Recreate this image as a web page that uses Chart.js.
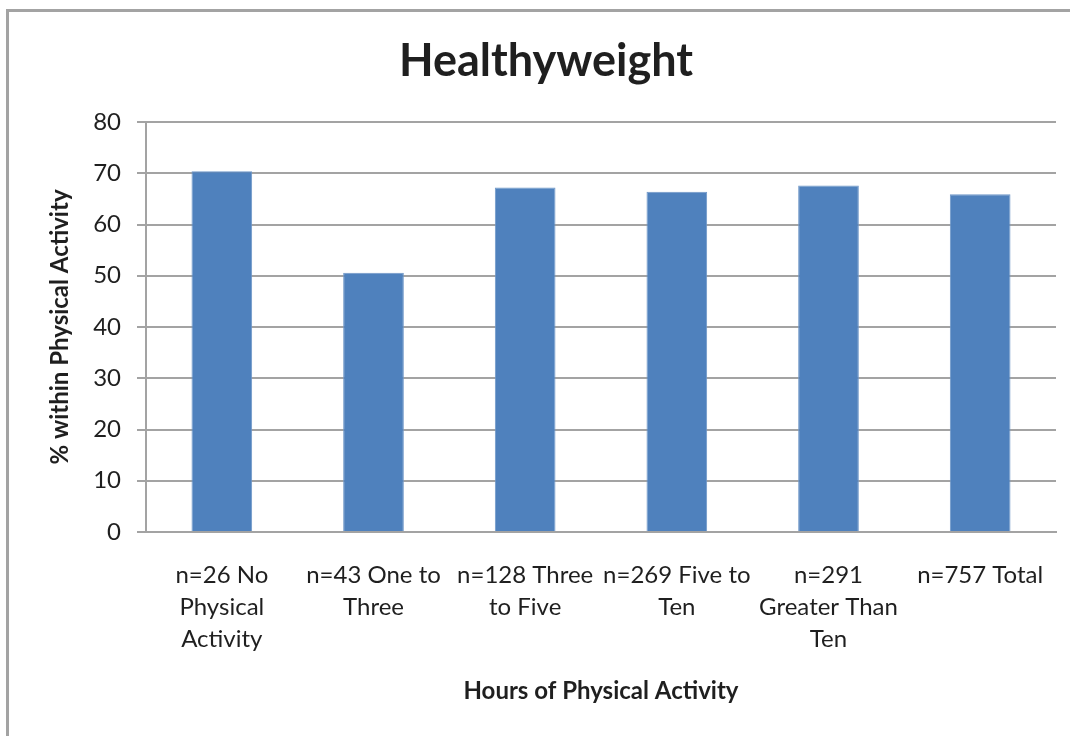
<!DOCTYPE html>
<html>
<head>
<meta charset="utf-8">
<title>Healthyweight</title>
<script src="https://cdn.jsdelivr.net/npm/chart.js@4.4.0/dist/chart.umd.min.js"></script>
<style>
  html, body { margin: 0; padding: 0; background: #fff; overflow: hidden; }
  /* marco gris del grafico, cortado por la derecha y abajo como en la imagen */
  #marco {
    position: absolute; left: 6px; top: 9px; width: 1100px; height: 800px;
    border-left: 3px solid #a3a3a3; border-top: 3px solid #a3a3a3;
  }
  #contenedor { position: absolute; left: 0; top: 0; width: 1092px; height: 736px; }
</style>
</head>
<body>
<div id="marco"></div>
<div id="contenedor">
  <canvas id="PESO"></canvas>
</div>
<script>
// datos
const categorias = [
  ['n=26 No', 'Physical', 'Activity'],
  ['n=43 One to', 'Three'],
  ['n=128 Three', 'to Five'],
  ['n=269 Five to', 'Ten'],
  ['n=291', 'Greater Than', 'Ten'],
  ['n=757 Total']
];
const porcentajes = [70.4, 50.6, 67.2, 66.4, 67.6, 65.9];
const marcasY = [0, 10, 20, 30, 40, 50, 60, 70, 80];

const FUENTE = 'Lato, "Open Sans", sans-serif';
const GRIS = '#a3a3a3';
const TEXTO = '#1f1f1f';

var grafico = new Chart(document.getElementById('PESO'), {
  type: 'bar',
  data: {
    labels: categorias,
    datasets: [
      {
        label: '% within Physical Activity',
        data: porcentajes,
        backgroundColor: '#4f81bd',
        borderColor: '#6f97c8',
        borderWidth: 1,
        barPercentage: 0.4,
        categoryPercentage: 1
      }
    ]
  },
  options: {
    responsive: true,
    maintainAspectRatio: false,
    animation: false,
    // padding izquierdo = derecho para que el titulo quede centrado en x=546
    layout: { padding: { left: 36, right: 36, top: 0, bottom: 0 } },
    plugins: {
      legend: { display: false },
      tooltip: { enabled: false },
      title: {
        display: true,
        text: 'Healthyweight',
        color: TEXTO,
        font: { family: FUENTE, size: 45, weight: 'bold', lineHeight: 1.2 },
        padding: { top: 34, bottom: 34 }
      }
    },
    scales: {
      x: {
        offset: true,
        grid: { display: false, drawTicks: false },
        border: { display: true, color: GRIS, width: 2 },
        ticks: {
          color: TEXTO,
          autoSkip: false,
          maxRotation: 0,
          padding: 27,
          font: { family: FUENTE, size: 24, lineHeight: 1.345 }
        },
        title: {
          display: true,
          text: 'Hours of Physical Activity',
          color: TEXTO,
          font: { family: FUENTE, size: 24, weight: 'bold', lineHeight: 1.2 },
          padding: { top: 0, bottom: 30 }
        },
        afterFit: (escala) => { escala.height = 204; }
      },
      y: {
        min: marcasY[0],
        max: marcasY[marcasY.length - 1],
        grid: { color: GRIS, lineWidth: 2, tickLength: 9 },
        border: { display: true, color: GRIS, width: 2 },
        ticks: {
          stepSize: marcasY[1] - marcasY[0],
          color: TEXTO,
          padding: 16,
          font: { family: FUENTE, size: 24 }
        },
        title: {
          display: true,
          text: '% within Physical Activity',
          color: TEXTO,
          font: { family: FUENTE, size: 24, weight: 'bold', lineHeight: 1.2 },
          padding: { top: 10, bottom: 0 }
        },
        afterFit: (escala) => { escala.width = 110; }
      }
    }
  }
});
</script>
</body>
</html>
